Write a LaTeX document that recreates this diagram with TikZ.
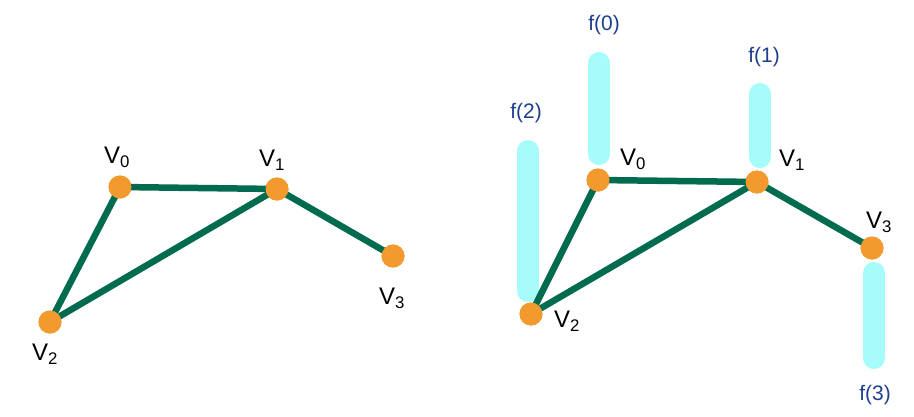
\documentclass[tikz,border=0pt]{standalone}
\usepackage{fontspec}
\setmainfont{Liberation Sans}
\begin{document}
\begin{tikzpicture}[x=1pt,y=-1pt,
  vert/.style={circle,fill=vorange,inner sep=0pt,minimum size=23pt},
  edge/.style={draw=egreen,line width=6.5pt},
  bar/.style={draw=fcyan,line width=22pt,line cap=round},
  vlab/.style={font=\fontsize{24}{26}\selectfont,text=black},
  flab/.style={font=\fontsize{21}{24}\selectfont,text=fnavy}]
\definecolor{vorange}{HTML}{F29A2E}
\definecolor{egreen}{HTML}{006B4E}
\definecolor{fcyan}{HTML}{A6FBFB}
\definecolor{fnavy}{HTML}{1E3F8F}
\useasboundingbox (0,0) rectangle (914,416);
% left graph
\node[vert] (a0) at (120,187) {};
\node[vert] (a1) at (277,189) {};
\node[vert] (a2) at (50,322) {};
\node[vert] (a3) at (393,256) {};
\draw[edge] (a0.center) -- (a1.center);
\draw[edge] (a0.center) -- (a2.center);
\draw[edge] (a2.center) -- (a1.center);
\draw[edge] (a1.center) -- (a3.center);
\node[vert] at (a0) {};
\node[vert] at (a1) {};
\node[vert] at (a2) {};
\node[vert] at (a3) {};
\node[vlab] (la0) at (117,157) {V\textsubscript{0}};
\node[vlab] (la1) at (272,160) {V\textsubscript{1}};
\node[vlab] (la2) at (45,354) {V\textsubscript{2}};
\node[vlab] (la3) at (392,298) {V\textsubscript{3}};
% right graph bars
\coordinate (b0t) at (599,63); \coordinate (b0b) at (599,154);
\coordinate (b1t) at (760,94); \coordinate (b1b) at (760,157);
\coordinate (b2t) at (528,151); \coordinate (b2b) at (528,291);
\coordinate (b3t) at (874,273); \coordinate (b3b) at (874,358);
\draw[bar] (b0t) -- (b0b);
\draw[bar] (b1t) -- (b1b);
\draw[bar] (b2t) -- (b2b);
\draw[bar] (b3t) -- (b3b);
\node[vert] (c0) at (598,180) {};
\node[vert] (c1) at (757,182) {};
\node[vert] (c2) at (531,314) {};
\node[vert] (c3) at (872,248) {};
\draw[edge] (c0.center) -- (c1.center);
\draw[edge] (c0.center) -- (c2.center);
\draw[edge] (c2.center) -- (c1.center);
\draw[edge] (c1.center) -- (c3.center);
\node[vert] at (c0) {};
\node[vert] at (c1) {};
\node[vert] at (c2) {};
\node[vert] at (c3) {};
\node[vlab] (lc0) at (633,159) {V\textsubscript{0}};
\node[vlab] (lc1) at (792,160) {V\textsubscript{1}};
\node[vlab] (lc2) at (567,321) {V\textsubscript{2}};
\node[vlab] (lc3) at (879,222) {V\textsubscript{3}};
\node[flab] (f0) at (604,25) {f(0)};
\node[flab] (f1) at (764,57) {f(1)};
\node[flab] (f2) at (526,113) {f(2)};
\node[flab] (f3) at (875,395) {f(3)};
\end{tikzpicture}
\end{document}
